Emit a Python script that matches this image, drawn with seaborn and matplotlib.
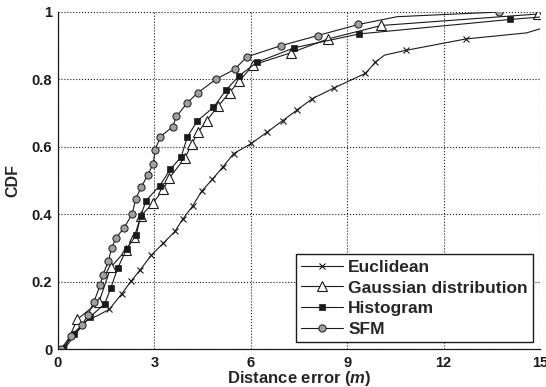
import numpy as np
import pandas as pd
import matplotlib
matplotlib.use('Agg')
import matplotlib.pyplot as plt
import seaborn as sns

sns.set_theme(style='white')
plt.rcParams['font.family'] = ['Liberation Sans', 'DejaVu Sans']
plt.rcParams['font.weight'] = 'bold'
plt.rcParams['mathtext.fontset'] = 'custom'
plt.rcParams['mathtext.bfit'] = 'Liberation Sans:italic:bold'
plt.rcParams['mathtext.rm'] = 'Liberation Sans:bold'

## values
eu_x = [0.2, 0.55, 0.9, 1.25, 1.6, 1.98, 2.28, 2.57, 2.9, 3.28, 3.64, 3.88, 4.19, 4.47, 4.81,
        5.13, 5.47, 6.02, 6.50, 7.0, 7.45, 7.92, 8.60, 9.57, 9.88, 10.16, 10.82, 12.69, 14.58, 15.0]
eu_y = [0.0, 0.045, 0.085, 0.10, 0.118, 0.163, 0.202, 0.236, 0.278, 0.314, 0.349, 0.385, 0.424, 0.468, 0.504,
        0.54, 0.58, 0.61, 0.643, 0.678, 0.71, 0.743, 0.775, 0.818, 0.851, 0.872, 0.886, 0.92, 0.938, 0.95]
eu_mark = [0, 4, 5, 6, 7, 8, 9, 10, 11, 12, 13, 14, 15, 16, 17, 18, 19, 20, 21, 22, 23, 24, 26, 27]

ga_x = [0.2, 0.6, 1.28, 1.65, 2.12, 2.38, 2.58, 2.95, 3.28, 3.47, 3.96, 4.16, 4.36, 4.63, 4.99,
        5.34, 5.65, 6.08, 7.25, 8.40, 10.06, 14.93]
ga_y = [0.0, 0.088, 0.14, 0.243, 0.294, 0.333, 0.395, 0.432, 0.474, 0.508, 0.568, 0.607, 0.643, 0.678, 0.721,
        0.761, 0.796, 0.843, 0.879, 0.92, 0.96, 0.994]

hi_x = [0.15, 0.5, 1.0, 1.46, 1.65, 1.86, 2.14, 2.44, 2.58, 2.74, 3.17, 3.50, 3.84, 4.03, 4.34,
        4.84, 5.23, 5.64, 6.20, 7.36, 9.38, 14.08, 15.0]
hi_y = [0.0, 0.045, 0.095, 0.135, 0.182, 0.24, 0.297, 0.339, 0.395, 0.44, 0.485, 0.533, 0.571, 0.63, 0.677,
        0.717, 0.768, 0.811, 0.851, 0.894, 0.935, 0.978, 0.985]

sf_x = [0.1, 0.4, 0.74, 0.93, 1.12, 1.32, 1.40, 1.57, 1.67, 1.81, 2.06, 2.31, 2.42, 2.59, 2.80,
        2.97, 3.02, 3.19, 3.57, 3.69, 4.02, 4.35, 4.91, 5.50, 5.88, 6.94, 8.08, 9.35, 10.55, 13.73]
sf_y = [0.0, 0.04, 0.07, 0.10, 0.14, 0.19, 0.22, 0.26, 0.30, 0.33, 0.36, 0.40, 0.445, 0.48, 0.517,
        0.55, 0.59, 0.63, 0.66, 0.69, 0.73, 0.76, 0.80, 0.83, 0.867, 0.90, 0.93, 0.963, 0.986, 1.0]
sf_mark = [i for i in range(len(sf_x)) if i != 28]

xticks = [0, 3, 6, 9, 12, 15]
yticks = [0, 0.2, 0.4, 0.6, 0.8, 1]
yticklabels = ['0', '0.2', '0.4', '0.6', '0.8', '1']

fig = plt.figure(figsize=(5.46, 3.87), dpi=100)
ax = fig.add_axes([0.106, 0.098, 0.883, 0.871])

common = dict(sort=False, estimator=None, color='k', lw=0.8, ax=ax)

sns.lineplot(data=pd.DataFrame({'x': eu_x, 'y': eu_y}), x='x', y='y', marker='x', ms=5,
             mec='k', mew=0.8, markevery=eu_mark, label='Euclidean', **common)
sns.lineplot(data=pd.DataFrame({'x': ga_x, 'y': ga_y}), x='x', y='y', marker='^', ms=7,
             mfc='white', mec='k', mew=0.8, label='Gaussian distribution', **common)
sns.lineplot(data=pd.DataFrame({'x': hi_x, 'y': hi_y}), x='x', y='y', marker='s', ms=5,
             mfc='k', mec='k', mew=0.5, markevery=list(range(len(hi_x) - 1)), label='Histogram', **common)
sns.lineplot(data=pd.DataFrame({'x': sf_x, 'y': sf_y}), x='x', y='y', marker='o', ms=5.2,
             mfc='#a0a0a0', mec='k', mew=0.7, markevery=sf_mark, label='SFM', **common)

ax.set_xlim(0, 15)
ax.set_ylim(0, 1)
ax.set_xticks(xticks)
ax.set_xticklabels([str(t) for t in xticks])
ax.set_yticks(yticks)
ax.set_yticklabels(yticklabels)
ax.tick_params(direction='in', length=3, width=0.8, labelsize=10.5, colors='k', pad=4)
ax.tick_params(axis='x', pad=5)
ax.grid(True, ls=':', color='k', lw=0.8)
for s in ['top', 'right']:
    ax.spines[s].set_visible(False)
for s in ['left', 'bottom']:
    ax.spines[s].set_color('k')
    ax.spines[s].set_linewidth(0.9)

ax.set_xlabel(r'Distance error ($\mathbfit{m}$)', fontsize=12, fontweight='bold', labelpad=-1)
ax.set_ylabel('CDF', fontsize=11.5, fontweight='bold', labelpad=8)

leg = ax.legend(loc='lower right', fontsize=12.5, frameon=True, fancybox=False, framealpha=1,
                edgecolor='k', numpoints=1, handlelength=2.4, handletextpad=0.3,
                labelspacing=0.32, borderpad=0.3, borderaxespad=0.4)
leg.get_frame().set_linewidth(1.0)
for t in leg.get_texts():
    t.set_fontweight('bold')

fig.savefig('out.png', dpi=100)
